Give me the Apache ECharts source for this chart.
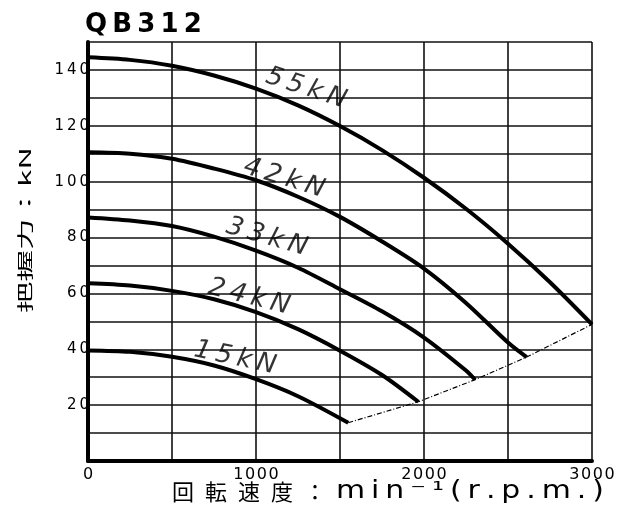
<!DOCTYPE html>
<html><head><meta charset="utf-8">
<script src="https://cdn.jsdelivr.net/npm/echarts@6/dist/echarts.min.js"></script>
<style>html,body{margin:0;padding:0;background:#fff}#c{width:625px;height:519px}</style>
</head><body><div id="c"></div>
<script>
// ---- data (rpm vs gripping force kN) ----
const rpm55 = [0, 250, 500, 750, 1000, 1250, 1500, 1750, 2000, 2250, 2500, 2750, 3000];
const val55 = [144.5, 143.6, 141.5, 138.0, 133.3, 127.3, 119.9, 111.3, 101.4, 90.3, 77.8, 64.0, 48.9];
const rpm42 = [0, 250, 500, 750, 1000, 1250, 1500, 1750, 2000, 2250, 2500, 2611];
const val42 = [110.5, 110.0, 108.2, 104.7, 100.5, 94.6, 87.4, 78.6, 68.9, 56.6, 42.4, 37.2];
const rpm33 = [0, 250, 500, 750, 1000, 1250, 1500, 1750, 2000, 2250, 2304];
const val33 = [87.2, 86.1, 84.1, 80.3, 75.3, 69.2, 61.5, 53.6, 44.2, 32.4, 29.1];
const rpm24 = [0, 250, 500, 750, 1000, 1250, 1500, 1750, 1966];
const val24 = [63.6, 62.8, 60.9, 57.9, 53.3, 47.2, 39.5, 30.8, 21.2];
const rpm15 = [0, 250, 500, 750, 1000, 1250, 1549];
const val15 = [39.6, 39.1, 37.3, 34.2, 29.3, 23.2, 13.7];
const limitRpm = [1549, 1966, 2304, 2611, 3000];
const limitVal = [13.7, 21.2, 29.1, 37.2, 48.9];
const curveNames = ['55kN', '42kN', '33kN', '24kN', '15kN'];
const labelRpm = [1298, 1167, 1065, 958, 875];
const labelVal = [133.4, 101.2, 80.1, 58.7, 36.9];
const labelRot = [-18, -17, -16, -14, -12];
const yLabelValues = [20, 40, 60, 80, 100, 120, 140];
const xLabelValues = [0, 1000, 2000, 3000];
const titleText = 'QB312';
const xName1 = '回転速度：';
const xName2 = 'min⁻¹(r.p.m.)';
const yName = '把握力：kN';

const zip = (a, b) => a.map((x, i) => [x, b[i]]);
const spaced = (s, sp) => String(s).split('').join(sp);

const cv = document.createElement('canvas').getContext('2d');
function measure(text, font) { cv.font = font; return cv.measureText(text).width; }

const curves = [[rpm55, val55], [rpm42, val42], [rpm33, val33], [rpm24, val24], [rpm15, val15]];
const series = curves.map((c, i) => ({
  type: 'line', name: curveNames[i], data: zip(c[0], c[1]), smooth: 0.3, symbol: 'none',
  lineStyle: { color: '#000', width: 4 }, z: 5, silent: true
}));
series.push({
  type: 'line', data: zip(limitRpm, limitVal), symbol: 'none', silent: true, z: 4,
  lineStyle: { color: '#000', width: 1.2, type: [5, 2, 1, 2] }
});
series.push({
  type: 'scatter', symbolSize: 1, itemStyle: { color: 'rgba(0,0,0,0)' }, silent: true, z: 6,
  label: { show: true },
  data: curveNames.map((n, i) => ({
    value: [labelRpm[i], labelVal[i]],
    label: { show: true, formatter: spaced(n, '\u2009'), rotate: labelRot[i], position: 'inside',
      align: 'center', verticalAlign: 'middle', fontSize: 26, fontWeight: 200, fontStyle: 'italic',
      fontFamily: 'DejaVu Sans', color: '#000' }
  }))
});

const yFont = '16px "Noto Sans CJK JP"';
const yW = measure(yName, yFont);
const x1Font = '22px "Noto Sans CJK JP"';
const x1Text = spaced(xName1, '\u2002');
const x2Font = '24px "DejaVu Sans"';
const x2Text = spaced(xName2, '\u2009');
const x2W = measure(x2Text, x2Font);

const chart = echarts.init(document.getElementById('c'), null, { renderer: 'canvas' });
chart.setOption({
  animation: false,
  backgroundColor: '#fff',
  title: {
    text: spaced(titleText, '\u2009'), left: 85, top: 12, padding: 0,
    textStyle: { fontSize: 26, fontWeight: 'bold', fontFamily: 'DejaVu Sans', color: '#000' }
  },
  grid: { left: 88, right: 33, top: 42, bottom: 58, containLabel: false },
  xAxis: {
    type: 'value', min: 0, max: 3000, interval: 500,
    axisLine: { show: true, onZero: false, lineStyle: { color: '#000', width: 4 } },
    axisTick: { show: false },
    splitLine: { show: true, lineStyle: { color: '#111', width: 1.6 } },
    axisLabel: {
      margin: 6, fontSize: 16, fontFamily: 'DejaVu Sans', color: '#000',
      formatter: v => xLabelValues.includes(v) ? spaced(v, '\u200A') : ''
    }
  },
  yAxis: {
    type: 'value', min: 0, max: 150, interval: 10,
    axisLine: { show: true, onZero: false, lineStyle: { color: '#000', width: 4 } },
    axisTick: { show: false },
    splitLine: { show: true, lineStyle: { color: '#111', width: 1.6 } },
    axisLabel: {
      margin: -1, fontSize: 15, fontFamily: 'DejaVu Sans', color: '#000',
      formatter: v => yLabelValues.includes(v) ? spaced(v, '\u2009') : ''
    }
  },
  graphic: [
    { type: 'text', x: 25, y: 230, rotation: Math.PI / 2, scaleX: 166 / yW, scaleY: 1,
      style: { text: yName, font: yFont, fill: '#000', textAlign: 'center', textVerticalAlign: 'middle' } },
    { type: 'text', x: 172, y: 492,
      style: { text: x1Text, font: x1Font, fill: '#000', textAlign: 'left', textVerticalAlign: 'middle' } },
    { type: 'text', x: 336, y: 492, scaleX: 268 / x2W,
      style: { text: x2Text, font: x2Font, fill: '#000', textAlign: 'left', textVerticalAlign: 'middle' } }
  ],
  series: series
});
</script>
</body></html>
